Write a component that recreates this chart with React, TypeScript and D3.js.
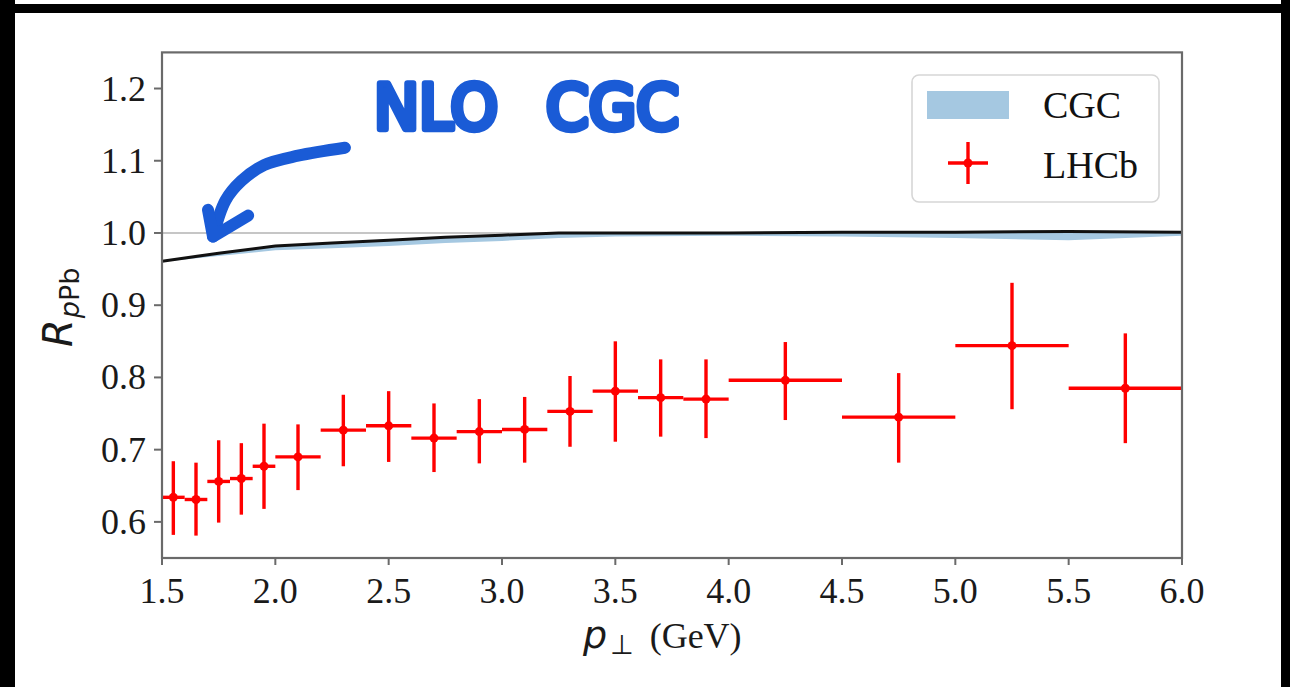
import React from "react";
import * as d3 from "d3";

// ---- data ----
const ptCenters = [1.55, 1.65, 1.75, 1.85, 1.95, 2.1, 2.3, 2.5, 2.7, 2.9, 3.1, 3.3, 3.5, 3.7, 3.9, 4.25, 4.75, 5.25, 5.75];
const ptHalfWidths = [0.05, 0.05, 0.05, 0.05, 0.05, 0.1, 0.1, 0.1, 0.1, 0.1, 0.1, 0.1, 0.1, 0.1, 0.1, 0.25, 0.25, 0.25, 0.25];
const lhcbValues = [0.634, 0.631, 0.656, 0.660, 0.677, 0.690, 0.727, 0.733, 0.716, 0.725, 0.728, 0.753, 0.781, 0.772, 0.770, 0.796, 0.745, 0.844, 0.785];
const lhcbLow = [0.582, 0.581, 0.599, 0.610, 0.618, 0.644, 0.677, 0.683, 0.669, 0.681, 0.682, 0.704, 0.711, 0.718, 0.716, 0.741, 0.682, 0.756, 0.709];
const lhcbHigh = [0.684, 0.682, 0.713, 0.709, 0.736, 0.735, 0.776, 0.781, 0.764, 0.770, 0.773, 0.802, 0.850, 0.825, 0.825, 0.849, 0.806, 0.931, 0.861];

const cgcX = [1.5, 1.75, 2.0, 2.25, 2.5, 2.75, 3.0, 3.25, 3.5, 4.0, 4.5, 5.0, 5.5, 6.0];
const cgcCentral = [0.961, 0.972, 0.982, 0.986, 0.990, 0.994, 0.997, 1.0, 1.0, 1.0, 1.001, 1.001, 1.002, 1.001];
const cgcLow = [0.960, 0.968, 0.976, 0.979, 0.982, 0.986, 0.989, 0.993, 0.995, 0.996, 0.995, 0.993, 0.990, 0.996];
const cgcHigh = [0.962, 0.973, 0.983, 0.987, 0.991, 0.995, 0.998, 1.0, 1.001, 1.001, 1.002, 1.002, 1.003, 1.002];

const xTicks = [1.5, 2.0, 2.5, 3.0, 3.5, 4.0, 4.5, 5.0, 5.5, 6.0];
const yTicks = [0.6, 0.7, 0.8, 0.9, 1.0, 1.1, 1.2];

// handwritten annotation words
const noteWords = ["NLO", "CGC"];

// annotation arrow (in data coordinates)
const arrowShaft: [number, number][] = [[2.307, 1.118], [2.1, 1.107], [1.95, 1.094], [1.85, 1.072], [1.78, 1.045], [1.725, 0.995]];
const arrowBarbs: [number, number][][] = [
  [[1.703, 1.032], [1.725, 0.995], [1.880, 1.024]],
];

const W = 1290;
const H = 687;

export default function App() {
  const x = d3.scaleLinear().domain([1.5, 6.0]).range([162, 1182]);
  const y = d3.scaleLinear().domain([0.55, 1.25]).range([558, 52.4]);
  const [x0, x1] = x.range();
  const [yb, yt] = y.range();

  const serif = "'Liberation Serif', 'Times New Roman', serif";
  const sans = "'DejaVu Sans', sans-serif";
  const spine = "#6a6a6a";
  const red = "#ff0000";
  const blue = "#1a5bd6";

  const area = d3
    .area<number>()
    .x((_, i) => x(cgcX[i]))
    .y0((_, i) => y(cgcLow[i]))
    .y1((_, i) => y(cgcHigh[i]));
  const line = d3
    .line<number>()
    .x((_, i) => x(cgcX[i]))
    .y((d) => y(d));
  const handLine = d3
    .line<[number, number]>()
    .x((d) => x(d[0]))
    .y((d) => y(d[1]))
    .curve(d3.curveCatmullRom);
  const straight = d3
    .line<[number, number]>()
    .x((d) => x(d[0]))
    .y((d) => y(d[1]));

  const wordBoxes: [number, number][] = [
    [374, 124],
    [546, 133],
  ];

  return (
    <svg width={W} height={H} style={{ position: "absolute", left: 0, top: 0, background: "#fff" }}>
      <rect x={0} y={0} width={W} height={H} fill="#fff" />
      {/* black frame bits */}
      <rect x={0} y={0} width={15} height={H} fill="#000" />
      <rect x={15} y={4} width={W - 15} height={9} fill="#000" />
      <rect x={1281} y={0} width={9} height={H} fill="#000" />

      <defs>
        <clipPath id="plotclip">
          <rect x={x0} y={yt} width={x1 - x0} height={yb - yt} />
        </clipPath>
      </defs>

      {/* horizontal reference at 1 */}
      <line x1={x0} x2={x1} y1={y(1)} y2={y(1)} stroke="#b3b3b3" strokeWidth={1.6} />

      <g clipPath="url(#plotclip)">
        <path d={area(cgcX) || ""} fill="#a5c8e1" />
        <path d={line(cgcCentral) || ""} fill="none" stroke="#111" strokeWidth={3} />
        {ptCenters.map((c, i) => (
          <g key={i}>
            <line
              x1={x(c - ptHalfWidths[i])}
              x2={x(c + ptHalfWidths[i])}
              y1={y(lhcbValues[i])}
              y2={y(lhcbValues[i])}
              stroke={red}
              strokeWidth={3.4}
            />
            <line x1={x(c)} x2={x(c)} y1={y(lhcbLow[i])} y2={y(lhcbHigh[i])} stroke={red} strokeWidth={3.4} />
            <circle cx={x(c)} cy={y(lhcbValues[i])} r={4.5} fill={red} />
          </g>
        ))}
      </g>

      {/* spines */}
      <rect x={x0} y={yt} width={x1 - x0} height={yb - yt} fill="none" stroke={spine} strokeWidth={2.2} />

      {/* x ticks */}
      {xTicks.map((t) => (
        <g key={"x" + t}>
          <line x1={x(t)} x2={x(t)} y1={yb} y2={yb + 7} stroke={spine} strokeWidth={2} />
          <text x={x(t)} y={603} textAnchor="middle" fontFamily={serif} fontSize={36} fill="#1a1a1a">
            {t.toFixed(1)}
          </text>
        </g>
      ))}
      {/* y ticks */}
      {yTicks.map((t) => (
        <g key={"y" + t}>
          <line x1={x0 - 8} x2={x0} y1={y(t)} y2={y(t)} stroke={spine} strokeWidth={2} />
          <text x={146} y={y(t) + 12} textAnchor="end" fontFamily={serif} fontSize={36} fill="#1a1a1a">
            {t.toFixed(1)}
          </text>
        </g>
      ))}

      {/* x label */}
      <text x={583} y={648} fontSize={38} fill="#1a1a1a">
        <tspan fontFamily={sans} fontStyle="italic">p</tspan>
        <tspan fontFamily={sans} fontSize={27} dy={6} dx={3}>⊥</tspan>
        <tspan fontFamily={serif} fontSize={36} dy={-6} dx={16}>(GeV)</tspan>
      </text>

      {/* y label */}
      <text transform="translate(72,347) rotate(-90)" fontSize={40} fill="#1a1a1a">
        <tspan fontFamily={sans} fontStyle="italic">R</tspan>
        <tspan fontFamily={sans} fontSize={27} dy={7} dx={1}>
          <tspan fontStyle="italic">p</tspan>Pb
        </tspan>
      </text>

      {/* legend */}
      <rect x={912} y={75} width={247} height={127} rx={7} fill="#fff" fillOpacity={0.85} stroke="#d6d6d6" strokeWidth={1.6} />
      <rect x={927} y={91} width={82} height={28} fill="#a5c8e1" />
      <text x={1043} y={118} fontFamily={serif} fontSize={38} fill="#111">CGC</text>
      <line x1={948} x2={988} y1={163} y2={163} stroke={red} strokeWidth={3.4} />
      <line x1={968} x2={968} y1={142} y2={184} stroke={red} strokeWidth={3.4} />
      <circle cx={968} cy={163} r={4.5} fill={red} />
      <text x={1043} y={178} fontFamily={serif} fontSize={38} fill="#111">LHCb</text>

      {/* handwritten annotation */}
      <g fill={blue} stroke={blue} strokeWidth={6.5} strokeLinejoin="round" strokeLinecap="round" fontFamily={sans} fontSize={62}>
        {noteWords.map((w, i) => (
          <text key={i} x={wordBoxes[i][0]} y={129} textLength={wordBoxes[i][1]} lengthAdjust="spacingAndGlyphs">
            {w}
          </text>
        ))}
      </g>
      <path d={handLine(arrowShaft) || ""} fill="none" stroke={blue} strokeWidth={12} strokeLinecap="round" strokeLinejoin="round" />
      {arrowBarbs.map((b, i) => (
        <path key={i} d={straight(b) || ""} fill="none" stroke={blue} strokeWidth={12} strokeLinecap="round" strokeLinejoin="round" />
      ))}
    </svg>
  );
}
